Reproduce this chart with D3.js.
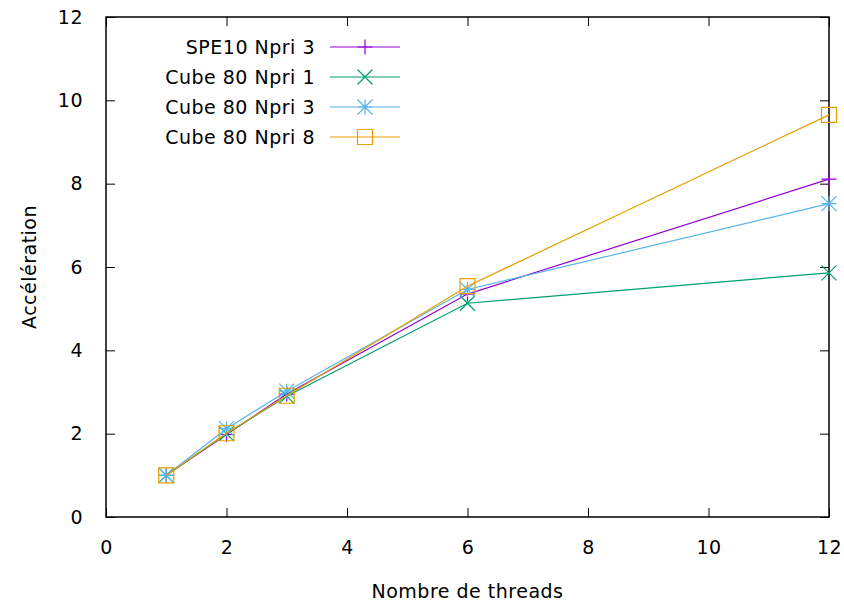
<!DOCTYPE html>
<html>
<head>
<meta charset="utf-8">
<script src="https://cdn.jsdelivr.net/npm/d3@7"></script>
<style>
  body { margin: 0; background: #fff; }
  svg text { font-family: "DejaVu Sans", Verdana, sans-serif; font-size: 19px; letter-spacing: 0.5px; fill: #000; }
</style>
</head>
<body>
<svg id="chart" width="844" height="604"></svg>
<script>
// Thread counts and measured speedups per configuration
const threads = [1, 2, 3, 6, 12];
const spe10Npri3 = [1, 1.98, 2.95, 5.35, 8.11];
const cube80Npri1 = [1, 2.0, 2.9, 5.13, 5.86];
const cube80Npri3 = [1, 2.12, 3.02, 5.46, 7.52];
const cube80Npri8 = [1, 2.01, 2.91, 5.54, 9.65];

const xTicks = [0, 2, 4, 6, 8, 10, 12];
const yTicks = [0, 2, 4, 6, 8, 10, 12];

const seriesNames = ["SPE10 Npri 3", "Cube 80 Npri 1", "Cube 80 Npri 3", "Cube 80 Npri 8"];
const seriesValues = [spe10Npri3, cube80Npri1, cube80Npri3, cube80Npri8];
const seriesColors = ["#9400d3", "#009e73", "#56b4e9", "#e69f00"];
const seriesMarkers = ["plus", "cross", "star", "square"];

const svg = d3.select("#chart");
const plotLeft = 106, plotRight = 829, plotTop = 17, plotBottom = 517;
const fontFamily = '"DejaVu Sans", Verdana, sans-serif';

const x = d3.scaleLinear().domain([0, 12]).range([plotLeft, plotRight]);
const y = d3.scaleLinear().domain([0, 12]).range([plotBottom, plotTop]);

// Axes with inward ticks, mirrored on top and right
const tickLen = 9;
svg.append("g").attr("transform", `translate(0,${plotBottom})`)
  .call(d3.axisBottom(x).tickValues(xTicks).tickSizeInner(-tickLen).tickSizeOuter(0).tickPadding(24))
  .call(g => g.select(".domain").remove());
svg.append("g").attr("transform", `translate(0,${plotTop})`)
  .call(d3.axisTop(x).tickValues(xTicks).tickSizeInner(-tickLen).tickSizeOuter(0).tickFormat(""))
  .call(g => g.select(".domain").remove());
svg.append("g").attr("transform", `translate(${plotLeft},0)`)
  .call(d3.axisLeft(y).tickValues(yTicks).tickSizeInner(-tickLen).tickSizeOuter(0).tickPadding(23))
  .call(g => g.select(".domain").remove());
svg.append("g").attr("transform", `translate(${plotRight},0)`)
  .call(d3.axisRight(y).tickValues(yTicks).tickSizeInner(-tickLen).tickSizeOuter(0).tickFormat(""))
  .call(g => g.select(".domain").remove());

svg.selectAll(".tick line").attr("stroke", "#000").attr("stroke-width", 1);
svg.selectAll(".tick text").style("font-family", fontFamily).style("font-size", "19px");

svg.append("rect")
  .attr("x", plotLeft).attr("y", plotTop).attr("width", plotRight - plotLeft).attr("height", plotBottom - plotTop)
  .attr("fill", "none").attr("stroke", "#000").attr("stroke-width", 1.5);

// Axis titles
svg.append("text").attr("x", (plotLeft + plotRight) / 2).attr("y", 598).attr("text-anchor", "middle")
  .text("Nombre de threads");
svg.append("text").attr("transform", `translate(36,${(plotTop + plotBottom) / 2}) rotate(-90)`)
  .attr("text-anchor", "middle").text("Accélération");

function drawMarker(g, type, cx, cy, color) {
  const s = 7.5;
  const path = d3.path();
  if (type === "plus" || type === "star") {
    path.moveTo(cx - s, cy); path.lineTo(cx + s, cy);
    path.moveTo(cx, cy - s); path.lineTo(cx, cy + s);
  }
  if (type === "cross" || type === "star") {
    path.moveTo(cx - s, cy - s); path.lineTo(cx + s, cy + s);
    path.moveTo(cx - s, cy + s); path.lineTo(cx + s, cy - s);
  }
  if (type === "square") {
    path.rect(cx - s, cy - s, 2 * s, 2 * s);
  }
  g.append("path").attr("d", path.toString()).attr("fill", "none")
    .attr("stroke", color).attr("stroke-width", 1.2);
}

const line = d3.line().x(d => x(d[0])).y(d => y(d[1]));

seriesValues.forEach((vals, i) => {
  const pts = threads.map((t, j) => [t, vals[j]]);
  const g = svg.append("g");
  g.append("path").attr("d", line(pts)).attr("fill", "none")
    .attr("stroke", seriesColors[i]).attr("stroke-width", 1.2);
  pts.forEach(p => drawMarker(g, seriesMarkers[i], x(p[0]), y(p[1]), seriesColors[i]));
});

// Legend
seriesNames.forEach((name, i) => {
  const ly = 47 + i * 30;
  const g = svg.append("g");
  g.append("text").attr("x", 315).attr("y", ly).attr("dy", "0.35em")
    .attr("text-anchor", "end").text(name);
  g.append("line").attr("x1", 330).attr("x2", 400).attr("y1", ly).attr("y2", ly)
    .attr("stroke", seriesColors[i]).attr("stroke-width", 1.2);
  drawMarker(g, seriesMarkers[i], 365, ly, seriesColors[i]);
});
</script>
</body>
</html>
